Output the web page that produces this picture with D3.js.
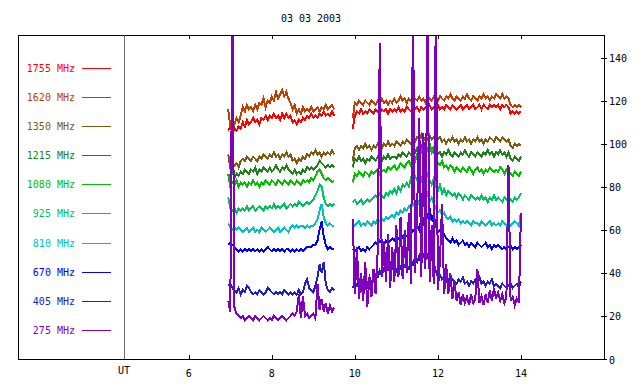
<!DOCTYPE html>
<html>
<head>
<meta charset="utf-8">
<script src="https://cdn.jsdelivr.net/npm/d3@7"></script>
<style>
  body { margin: 0; background: #fff; }
  svg text { font-family: 'DejaVu Sans Mono', monospace; font-size: 10px; }
</style>
</head>
<body>
<div id="chart"></div>
<script>
// radio flux for one day, ten frequencies, two observing runs
//``````````````````````````````````````//

let title = '03 03 2003'
let freqs = ['1755 MHz', '1620 MHz', '1350 MHz', '1215 MHz', '1080 MHz', '925 MHz', '810 MHz', '670 MHz', '405 MHz', '275 MHz']
let colors = ['#ff0000', '#c04000', '#805a10', '#208020', '#00c000', '#00c060', '#00c0c0', '#0000ff', '#2020c0', '#8000c0']
let hourTicks = [6, 8, 10, 12, 14]
let fluxTicks = [0, 20, 40, 60, 80, 100, 120, 140]

// samples every 0.05 h, first run starts 6.95 UT, second 9.95 UT
let step = 0.05
let startA = 6.95
let startB = 9.95

let f1755a = [106,108,105,107,106,108,107,110,108,111,
    109,110,112,110,111,109,112,111,113,111,
    113,112,114,112,113,111,114,112,114,112,
    113,110,111,109,111,110,112,111,113,112,
    114,112,113,112,114,113,115,113,114,113,
    115,113]
let f1755b = [107,113,115,114,116,114,115,114,116,115,
    114,116,115,114,116,115,116,114,116,115,
    116,115,117,115,116,115,117,116,115,117,
    116,117,115,117,116,117,116,118,116,117,
    116,118,116,117,116,118,117,116,118,117,
    116,117,118,116,117,118,116,117,118,116,
    117,118,116,118,117,116,118,117,118,117,
    118,116,118,117,118,117,114,115,114,115,
    114,115]

let f1620a = [116,108,111,109,112,110,113,117,115,118,
    116,117,115,118,116,119,118,121,117,120,
    119,122,120,124,121,123,125,122,124,121,
    119,116,118,114,116,114,117,115,116,115,
    117,115,116,117,115,117,116,118,116,117,
    118,116]
let f1620b = [112,119,118,120,119,118,120,119,118,120,
    119,118,120,119,121,119,120,118,120,119,
    121,119,120,122,120,121,119,121,120,122,
    121,120,122,120,121,119,122,121,120,122,
    121,120,122,121,120,122,121,123,121,120,
    122,121,120,122,121,123,121,120,122,121,
    120,122,121,123,121,122,120,122,121,123,
    122,121,123,121,122,121,118,117,118,117,
    118,117]

let f1350a = [95,89,91,90,91,89,92,93,92,94,
    93,92,94,93,92,94,93,95,94,93,
    95,94,96,94,95,93,95,94,96,94,
    95,92,93,91,93,92,94,93,95,94,
    96,95,97,95,96,94,96,95,96,95,
    97,95]
let f1350b = [92,98,99,97,99,98,100,98,99,97,
    99,98,100,99,98,100,99,101,99,100,
    99,101,100,99,101,100,102,101,100,102,
    101,103,102,104,101,103,102,104,102,103,
    101,102,103,101,102,100,102,101,103,101,
    102,100,102,101,103,101,102,100,102,101,
    103,101,102,100,102,101,103,102,101,103,
    102,101,103,102,101,102,99,98,100,99,
    100,99]

let f1215a = [86,85,87,84,86,85,87,86,88,87,
    86,88,87,89,86,88,87,89,88,87,
    89,87,88,90,88,87,89,88,90,88,
    87,86,88,86,87,86,88,87,89,88,
    89,88,89,90,92,91,90,89,90,89,
    90,89]
let f1215b = [89,93,92,94,92,93,91,93,92,94,
    93,92,94,93,92,94,93,95,93,94,
    94,93,95,94,96,95,94,96,95,97,
    96,98,96,99,97,99,98,97,98,96,
    97,95,96,94,96,95,97,95,94,96,
    95,94,96,95,97,95,94,96,95,94,
    96,95,94,96,95,97,95,96,94,96,
    95,97,95,96,94,96,93,92,94,93,
    92,94]

let f1080a = [86,80,82,81,83,80,82,81,82,80,
    82,81,83,81,82,80,82,81,83,82,
    81,83,82,81,83,82,81,83,82,81,
    83,82,81,83,82,81,83,82,83,82,
    84,83,85,87,88,86,84,83,84,83,
    82,83]
let f1080b = [82,86,85,87,86,85,87,86,85,87,
    86,87,88,86,87,88,87,89,88,89,
    90,88,89,91,90,89,91,92,90,93,
    92,95,93,97,96,99,97,100,96,98,
    94,91,90,92,89,90,88,90,89,87,
    89,88,87,89,88,87,89,88,86,88,
    89,87,88,86,88,87,89,88,87,88,
    87,89,88,86,88,87,86,85,87,86,
    85,87]

let f925a = [75,70,69,70,68,70,69,70,69,71,
    69,70,71,69,70,71,70,69,71,70,
    71,70,72,70,71,70,71,72,70,71,
    72,71,72,71,73,72,71,72,73,72,
    73,74,76,78,81,80,75,72,71,72,
    71,72]
let f925b = [73,74,72,73,74,72,73,74,73,74,
    75,76,75,77,76,75,77,76,78,77,
    79,77,80,78,81,80,82,80,84,82,
    85,83,86,82,87,84,86,83,81,84,
    80,78,81,77,79,76,78,77,76,77,
    75,77,76,74,76,75,74,76,75,74,
    75,74,76,74,75,73,75,74,76,74,
    75,74,73,75,74,75,74,73,75,74,
    75,77]

let f810a = [63,61,60,61,60,61,60,59,60,61,
    59,60,61,59,60,59,61,60,59,60,
    61,60,59,60,61,59,60,61,60,59,
    61,62,61,62,61,62,62,61,62,61,
    62,62,63,65,69,72,66,63,62,63,
    62,62]
let f810b = [63,62,63,64,62,63,62,64,63,62,
    64,63,65,64,65,64,66,65,66,67,
    66,68,67,69,68,70,69,71,70,72,
    71,74,72,76,78,75,77,73,75,72,
    70,68,69,67,68,66,65,66,64,65,
    64,65,63,64,63,64,63,62,64,63,
    63,62,64,63,62,63,64,62,63,62,
    63,62,64,63,62,63,62,63,64,63,
    62,68]

let f670a = [53,54,53,52,51,50,51,50,51,50,
    51,50,51,50,51,50,51,50,51,52,
    51,50,51,50,51,50,51,50,51,51,
    50,51,50,51,50,51,50,51,52,52,
    52,53,53,55,60,64,57,53,51,52,
    51,51]
let f670b = [51,50,51,52,50,51,50,52,51,52,
    53,54,53,55,54,53,55,54,55,56,
    55,57,56,55,57,58,57,59,58,60,
    59,62,60,65,63,68,66,70,64,67,
    62,59,60,57,58,56,55,54,56,54,
    55,53,54,55,53,54,52,54,53,52,
    54,53,52,53,54,52,53,51,53,52,
    53,52,51,52,51,52,53,51,52,51,
    52,53]

let f405a = [34,35,33,32,31,33,30,32,31,34,
    33,31,30,31,30,32,31,30,31,33,
    32,31,30,31,30,31,30,32,31,30,
    31,30,31,30,32,30,31,35,37,33,
    32,31,34,38,44,40,45,35,32,31,
    33,32]
let f405b = [33,36,34,37,35,33,36,34,38,35,
    37,39,38,41,39,42,40,43,41,42,
    44,41,43,42,45,43,44,42,46,44,
    47,45,48,44,49,46,48,45,47,44,
    41,38,39,37,38,36,37,35,37,36,
    35,37,36,38,35,36,34,36,35,37,
    36,38,35,36,34,36,35,37,34,35,
    34,33,35,34,33,34,35,33,34,35,
    33,36]

let f275a = [27,22,165,24,21,20,19,20,18,19,
    20,19,18,20,19,18,19,20,19,18,
    19,18,20,19,18,19,20,19,18,19,
    20,21,20,22,30,19,29,20,21,19,
    20,21,19,35,23,28,22,26,21,25,
    22,24]
let f275b = [65,30,52,28,40,27,45,24,38,29,
    42,30,50,147,38,55,36,58,33,52,
    36,62,38,66,37,60,40,68,35,165,
    40,70,112,38,105,42,165,36,62,35,
    165,32,46,72,30,44,30,40,28,36,
    27,31,25,30,26,29,25,30,26,28,
    42,26,29,25,30,26,32,27,33,28,
    31,27,30,26,29,90,27,29,25,28,
    26,68]

let runsA = [f1755a, f1620a, f1350a, f1215a, f1080a, f925a, f810a, f670a, f405a, f275a]
let runsB = [f1755b, f1620b, f1350b, f1215b, f1080b, f925b, f810b, f670b, f405b, f275b]

let width = 640
let height = 384
// frame edges
let frameL = 18, frameT = 35, frameR = 604, frameB = 359
let utLine = 124

let canvas = d3.select('#chart').append('svg')
    .attr('width', width)
    .attr('height', height)

// x starts at the UT line, y axis on the right
let x = d3.scaleLinear().domain([4.44, 16]).range([utLine, frameR])
let y = d3.scaleLinear().domain([0, 150.5]).range([frameB, frameT])

canvas.append('clipPath').attr('id', 'plot-clip')
    .append('rect')
    .attr('x', utLine).attr('y', frameT)
    .attr('width', frameR - utLine).attr('height', frameB - frameT)

// title
canvas.append('text')
    .attr('x', (frameL + frameR) / 2)
    .attr('y', 21.5)
    .attr('text-anchor', 'middle')
    .text(title)

// data lines, drawn in legend order so 275 MHz ends up on top
let lineFrom = (start) => d3.line()
    .x((d, i) => x(start + i * step))
    .y(d => y(d))

let lines = canvas.append('g').attr('clip-path', 'url(#plot-clip)')
for (let i = 0; i < freqs.length; i++) {
    lines.append('path')
        .attr('d', lineFrom(startA)(runsA[i]))
        .attr('fill', 'none')
        .attr('stroke', colors[i])
        .attr('stroke-width', 2)
        .style('shape-rendering', 'crispEdges')
    lines.append('path')
        .attr('d', lineFrom(startB)(runsB[i]))
        .attr('fill', 'none')
        .attr('stroke', colors[i])
        .attr('stroke-width', 2)
        .style('shape-rendering', 'crispEdges')
}

// frame
canvas.append('rect')
    .attr('x', frameL + 0.5).attr('y', frameT + 0.5)
    .attr('width', frameR - frameL).attr('height', frameB - frameT)
    .attr('fill', 'none')
    .attr('stroke', 'black')

// UT divider
canvas.append('line')
    .attr('x1', utLine + 0.5).attr('x2', utLine + 0.5)
    .attr('y1', frameT).attr('y2', frameB)
    .attr('stroke', '#707070')

// hour ticks top and bottom
canvas.selectAll('.tick-top')
    .data(hourTicks).enter().append('line')
    .attr('x1', d => Math.round(x(d)) + 0.5).attr('x2', d => Math.round(x(d)) + 0.5)
    .attr('y1', frameT).attr('y2', frameT + 4)
    .attr('stroke', 'black')
canvas.selectAll('.tick-bottom')
    .data(hourTicks).enter().append('line')
    .attr('x1', d => Math.round(x(d)) + 0.5).attr('x2', d => Math.round(x(d)) + 0.5)
    .attr('y1', frameB - 4).attr('y2', frameB)
    .attr('stroke', 'black')
canvas.selectAll('.hour-label')
    .data(hourTicks).enter().append('text')
    .attr('x', d => x(d))
    .attr('y', 377)
    .attr('text-anchor', 'middle')
    .text(d => d)
canvas.append('text')
    .attr('x', utLine)
    .attr('y', 374)
    .attr('text-anchor', 'middle')
    .text('UT')

// flux axis on the right
canvas.selectAll('.flux-tick')
    .data(fluxTicks).enter().append('line')
    .attr('x1', frameR - 3).attr('x2', frameR + 3)
    .attr('y1', d => Math.round(y(d)) + 0.5).attr('y2', d => Math.round(y(d)) + 0.5)
    .attr('stroke', 'black')
canvas.selectAll('.flux-label')
    .data(fluxTicks).enter().append('text')
    .attr('x', 609)
    .attr('y', d => y(d) + 4.5)
    .text(d => d)

// legend
let legendY = (i) => 67.7 + i * 29.15
canvas.selectAll('.legend-text')
    .data(freqs).enter().append('text')
    .attr('x', 75)
    .attr('y', (d, i) => legendY(i) + 4)
    .attr('text-anchor', 'end')
    .attr('fill', (d, i) => colors[i])
    .text(d => d)
canvas.selectAll('.legend-line')
    .data(freqs).enter().append('line')
    .attr('x1', 82).attr('x2', 111)
    .attr('y1', (d, i) => Math.round(legendY(i)) + 0.5)
    .attr('y2', (d, i) => Math.round(legendY(i)) + 0.5)
    .attr('stroke', (d, i) => colors[i])
</script>
</body>
</html>
